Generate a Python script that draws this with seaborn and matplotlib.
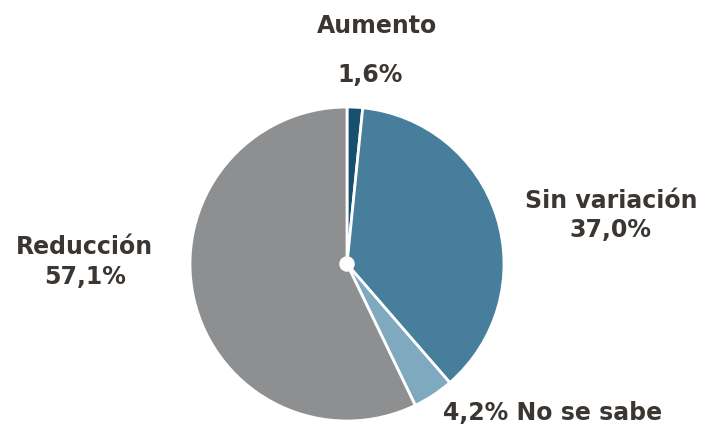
import matplotlib
matplotlib.use('Agg')
import matplotlib.pyplot as plt
import seaborn as sns

# Datos
categorias = ['Aumento', 'Sin variación', 'No se sabe', 'Reducción']
valores = [1.6, 37.0, 4.2, 57.1]
etiquetas_pct = ['1,6%', '37,0%', '4,2%', '57,1%']
colores = ['#174f6e', '#467e9c', '#7fa9bf', '#8e8f91']

sns.set_theme(style='white')
plt.rcParams['font.family'] = ['DejaVu Sans']
color_texto = '#3b3632'

fig = plt.figure(figsize=(7.03, 4.27), dpi=100)
# pie centrado en (347, 265) px con radio ~157 px
cx, cy, r = 347, 427 - 265, 157
ax = fig.add_axes([(cx - r) / 703, (cy - r) / 427, 2 * r / 703, 2 * r / 427])

ax.pie(valores, colors=colores, startangle=90, counterclock=False,
       wedgeprops=dict(edgecolor='white', linewidth=2))
ax.add_patch(plt.Circle((0, 0), 0.045, color='white', zorder=5))
ax.set_xlim(-1, 1)
ax.set_ylim(-1, 1)
ax.set_aspect('equal')
ax.axis('off')

kw = dict(fontsize=17, fontweight='bold', color=color_texto, ha='center', va='center')
ax.text(0.19, 1.52, categorias[0], **kw)
ax.text(0.147, 1.21, etiquetas_pct[0], **kw)
ax.text(1.68, 0.41, categorias[1], **kw)
ax.text(1.68, 0.22, etiquetas_pct[1], **kw)
ax.text(1.31, -0.94, etiquetas_pct[2] + ' ' + categorias[2], **kw)
ax.text(-1.67, 0.115, categorias[3], **kw)
ax.text(-1.67, -0.076, etiquetas_pct[3], **kw)

fig.savefig('out.png', dpi=100)
